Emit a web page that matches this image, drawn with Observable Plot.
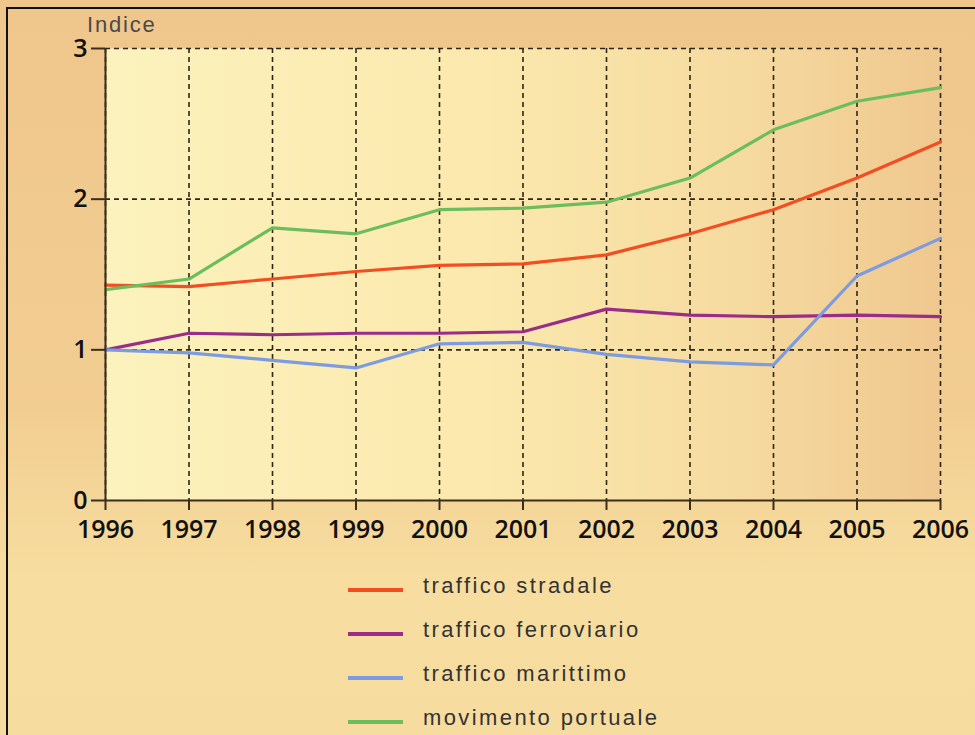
<!DOCTYPE html>
<html>
<head>
<meta charset="utf-8">
<script src="https://cdn.jsdelivr.net/npm/d3@7"></script>
<script src="https://cdn.jsdelivr.net/npm/@observablehq/plot@0.6"></script>
<style>
  html, body { margin: 0; padding: 0; }
  body {
    width: 975px; height: 735px; overflow: hidden; position: relative;
    background: linear-gradient(180deg, #efc68c 0%, #f2cd92 55%, #f7dea0 80%, #f6dc9e 100%);
    font-family: "Open Sans", sans-serif;
  }
  #frameline { position: absolute; left: 6px; top: 7px; width: 975px; height: 735px;
    border-top: 2px solid #111; border-left: 2px solid #111; pointer-events: none; }
  #chart { position: absolute; left: 0; top: 0; }
  #ylabel { position: absolute; left: 87px; top: 12px; font-family: "Liberation Sans", Arial, sans-serif;
    font-size: 22px; letter-spacing: 1.8px; color: #4a4a4a; }
  #legend { position: absolute; left: 348px; top: 573px; font-family: "Liberation Sans", Arial, sans-serif; }
  .item { position: absolute; left: 0; height: 30px; white-space: nowrap; }
  .swatch { position: absolute; left: 0; top: 15px; width: 55px; height: 3.5px; }
  .lab { position: absolute; left: 75px; top: 0px; font-size: 22px; letter-spacing: 2.4px; color: #333; }
</style>
</head>
<body>
<div id="chart"></div>
<div id="ylabel">Indice</div>
<div id="legend"></div>
<div id="frameline"></div>
<script>
const years = [1996, 1997, 1998, 1999, 2000, 2001, 2002, 2003, 2004, 2005, 2006];
const stradale    = [1.43, 1.42, 1.47, 1.52, 1.56, 1.57, 1.63, 1.77, 1.93, 2.14, 2.38];
const ferroviario = [1.00, 1.11, 1.10, 1.11, 1.11, 1.12, 1.27, 1.23, 1.22, 1.23, 1.22];
const marittimo   = [1.00, 0.98, 0.93, 0.88, 1.04, 1.05, 0.97, 0.92, 0.90, 1.49, 1.74];
const portuale    = [1.40, 1.47, 1.81, 1.77, 1.93, 1.94, 1.98, 2.14, 2.46, 2.65, 2.74];
const seriesNames = ["traffico stradale", "traffico ferroviario", "traffico marittimo", "movimento portuale"];
const seriesColors = ["#f24e22", "#9a2c8a", "#7d9be0", "#6cbd5c"];
const yTicks = [0, 1, 2, 3];

const seriesValues = [stradale, ferroviario, marittimo, portuale];
const data = seriesNames.flatMap((name, i) =>
  years.map((year, j) => ({ series: name, year, value: seriesValues[i][j] })));

const gridStyle = { stroke: "#2e2618", strokeOpacity: 1, strokeWidth: 1.6, strokeDasharray: "5,4" };

const svg = Plot.plot({
  width: 975,
  height: 545,
  marginLeft: 105,
  marginRight: 35,
  marginTop: 48,
  marginBottom: 45,
  style: { background: "transparent", fontFamily: "'Open Sans', sans-serif", color: "#111" },
  x: { domain: [1996, 2006], label: null },
  y: { domain: [0, 3], label: null },
  color: { domain: seriesNames, range: seriesColors },
  marks: [
    Plot.frame({ fill: "url(#plotbg)", stroke: null }),
    Plot.gridX(years, gridStyle),
    Plot.gridY(yTicks.slice(1), gridStyle),
    Plot.line(data, { x: "year", y: "value", z: "series", stroke: "series", strokeWidth: 3.2 }),
    Plot.ruleX([1996], { stroke: "#3d2e1c", strokeWidth: 2 }),
    Plot.ruleY([0], { stroke: "#3d2e1c", strokeWidth: 2 }),
    Plot.axisX({ ticks: years, tickFormat: d => String(d), tickSize: 10, tickPadding: 10,
      fontSize: 25, fontWeight: 600, stroke: "#3d2e1c", strokeWidth: 2, label: null }),
    Plot.axisY({ ticks: yTicks, tickFormat: d => String(d), tickSize: 14, tickPadding: 4, fontSize: 25,
      fontWeight: 600, stroke: "#3d2e1c", strokeWidth: 2, label: null })
  ]
});

d3.select(svg).insert("defs", ":first-child").html(`
  <linearGradient id="plotbg" x1="0" x2="1" y1="0" y2="0">
    <stop offset="0" stop-color="#fbf2bd"/>
    <stop offset="0.45" stop-color="#fbe9ad"/>
    <stop offset="0.75" stop-color="#f6dba0"/>
    <stop offset="1" stop-color="#efc88f"/>
  </linearGradient>`);

document.getElementById("chart").appendChild(svg);

const legend = document.getElementById("legend");
seriesNames.forEach((name, i) => {
  const item = document.createElement("div");
  item.className = "item";
  item.style.top = (i * 44) + "px";
  item.innerHTML = `<div class="swatch" style="background:${seriesColors[i]}"></div><div class="lab">${name}</div>`;
  legend.appendChild(item);
});
</script>
</body>
</html>
